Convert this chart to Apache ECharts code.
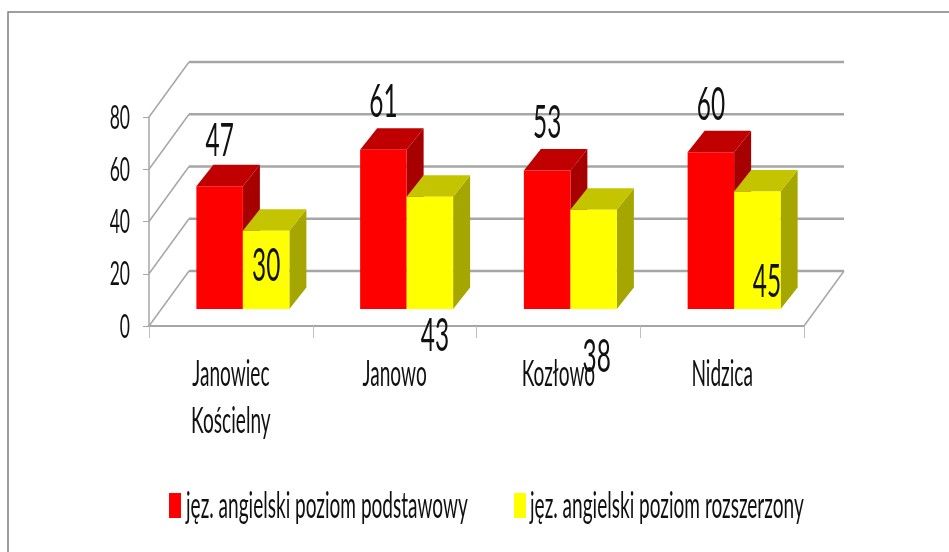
<!DOCTYPE html>
<html>
<head>
<meta charset="utf-8">
<style>
html, body { margin: 0; padding: 0; background: #fff; }
#chart { width: 949px; height: 552px; }
</style>
<script src="https://cdn.jsdelivr.net/npm/echarts@6/dist/echarts.min.js"></script>
</head>
<body>
<div id="chart"></div>
<script>
// dane
const categories = ['Janowiec\nKościelny', 'Janowo', 'Kozłowo', 'Nidzica']
const seriesNames = ['jęz. angielski poziom podstawowy', 'jęz. angielski poziom rozszerzony']
const podstawowy = [47, 61, 53, 60]
const rozszerzony = [30, 43, 38, 45]
const yTicks = [0, 20, 40, 60, 80]

// przesuniecia etykiet wzgledem srodka gory slupka
const labelShift = [
  [[0, -45], [0, -47], [0, -47], [0, -47]],
  [[0, 36], [5, 140], [3, 147], [9.5, 91]]
]

const FONT = 'Lato, "Open Sans", sans-serif'
const NARROW = 0.53
const WALL = [40, -55] // glebokosc wykresu
const BASE = [12, -17] // slupki stoja w srodku podlogi
const DEPTH = [17, -21.5] // glebokosc slupka
const BAR_W = 46.5
const GRID_COLOR = '#a6a6a6'

const faces = [
  { front: '#ff0000', top: '#c00000', side: '#a60000' },
  { front: '#ffff00', top: '#c4c400', side: '#a6a600' }
]

function narrowText(x, y, text, size, align) {
  return {
    type: 'text',
    x: x,
    y: y,
    scaleX: NARROW,
    style: {
      text: text,
      fill: '#111',
      font: size + 'px ' + FONT,
      align: align,
      verticalAlign: 'middle',
      lineHeight: 47
    }
  }
}

function renderWall(params, api) {
  const rect = params.coordSys
  const y = api.coord([0, api.value(0)])[1]
  const left = rect.x
  const right = rect.x + rect.width
  const children = [
    {
      type: 'line',
      shape: { x1: left, y1: y, x2: left + WALL[0], y2: y + WALL[1] },
      style: { stroke: GRID_COLOR, lineWidth: 1.5 }
    },
    {
      type: 'line',
      shape: { x1: left + WALL[0], y1: y + WALL[1], x2: right + WALL[0], y2: y + WALL[1] },
      style: { stroke: GRID_COLOR, lineWidth: 2.5 }
    }
  ]
  if (api.value(0) === 0) {
    children.push({
      type: 'line',
      shape: { x1: right, y1: y, x2: right + WALL[0], y2: y + WALL[1] },
      style: { stroke: GRID_COLOR, lineWidth: 1.5 }
    })
  }
  return { type: 'group', children: children }
}

function renderBar(params, api) {
  const s = params.seriesIndex - 1
  const c = faces[s]
  const i = api.value(0)
  const top = api.coord([i, api.value(1)])
  const bottom = api.coord([i, 0])
  const x0 = top[0] + BASE[0] - BAR_W + s * BAR_W
  const x1 = x0 + BAR_W
  const yt = top[1] + BASE[1]
  const yb = bottom[1] + BASE[1]
  const dx = DEPTH[0]
  const dy = DEPTH[1]
  const shift = labelShift[s][i]
  return {
    type: 'group',
    children: [
      {
        type: 'polygon',
        shape: { points: [[x1, yt], [x1 + dx, yt + dy], [x1 + dx, yb + dy], [x1, yb]] },
        style: { fill: c.side }
      },
      {
        type: 'polygon',
        shape: { points: [[x0, yt], [x0 + dx, yt + dy], [x1 + dx, yt + dy], [x1, yt]] },
        style: { fill: c.top }
      },
      {
        type: 'rect',
        shape: { x: x0, y: yt, width: BAR_W, height: yb - yt },
        style: { fill: c.front }
      },
      narrowText((x0 + x1) / 2 + shift[0], yt + shift[1], String(api.value(1)), 46, 'center')
    ]
  }
}

function renderYLabel(params, api) {
  const p = api.coord([0, api.value(0)])
  return narrowText(params.coordSys.x - 19, p[1] + 1, String(api.value(0)), 33, 'right')
}

function renderXLabel(params, api) {
  const p = api.coord([api.value(0), 0])
  const text = categories[api.value(0)]
  const lines = text.split('\n').length
  return narrowText(p[0], 374 + (lines - 1) * 23.5, text, 36, 'center')
}

function legendItem(i, x, textX) {
  return [
    {
      type: 'rect',
      shape: { x: x, y: 493, width: 12, height: 25 },
      style: { fill: faces[i].front }
    },
    {
      type: 'text',
      x: textX,
      y: 506,
      scaleX: 0.529,
      style: {
        text: seriesNames[i],
        fill: '#111',
        font: '36px ' + FONT,
        align: 'left',
        verticalAlign: 'middle'
      }
    }
  ]
}

const myChart = echarts.init(document.getElementById('chart'))

const option = {
  backgroundColor: '#fff',
  animation: false,
  grid: { left: 149, right: 145, top: 117, bottom: 226 },
  xAxis: {
    type: 'category',
    data: categories,
    axisLine: { lineStyle: { color: GRID_COLOR, width: 2 } },
    axisTick: { show: true, length: 12, lineStyle: { color: '#bfbfbf', width: 1 } },
    axisLabel: { show: false }
  },
  yAxis: {
    type: 'value',
    min: 0,
    max: 80,
    interval: 20,
    axisLine: { show: true, lineStyle: { color: GRID_COLOR, width: 1.5 } },
    axisTick: { show: true, length: 6, lineStyle: { color: GRID_COLOR, width: 1 } },
    axisLabel: { show: false },
    splitLine: { show: false }
  },
  graphic: [
    {
      type: 'polyline',
      shape: { points: [[8, 552], [8, 12], [949, 12]] },
      style: { stroke: '#808080', lineWidth: 1.5, fill: null }
    }
  ].concat(legendItem(0, 169, 186), legendItem(1, 514, 530)),
  series: [
    {
      type: 'custom',
      z: 1,
      renderItem: renderWall,
      encode: { y: 0 },
      data: yTicks.map(v => [v])
    },
    {
      name: seriesNames[0],
      type: 'custom',
      z: 3,
      renderItem: renderBar,
      encode: { x: 0, y: 1 },
      data: podstawowy.map((v, i) => [i, v])
    },
    {
      name: seriesNames[1],
      type: 'custom',
      z: 4,
      renderItem: renderBar,
      encode: { x: 0, y: 1 },
      data: rozszerzony.map((v, i) => [i, v])
    },
    {
      type: 'custom',
      z: 5,
      renderItem: renderYLabel,
      encode: { y: 0 },
      data: yTicks.map(v => [v])
    },
    {
      type: 'custom',
      z: 5,
      renderItem: renderXLabel,
      encode: { x: 0 },
      data: categories.map((c, i) => [i])
    }
  ]
}

myChart.setOption(option)
</script>
</body>
</html>
